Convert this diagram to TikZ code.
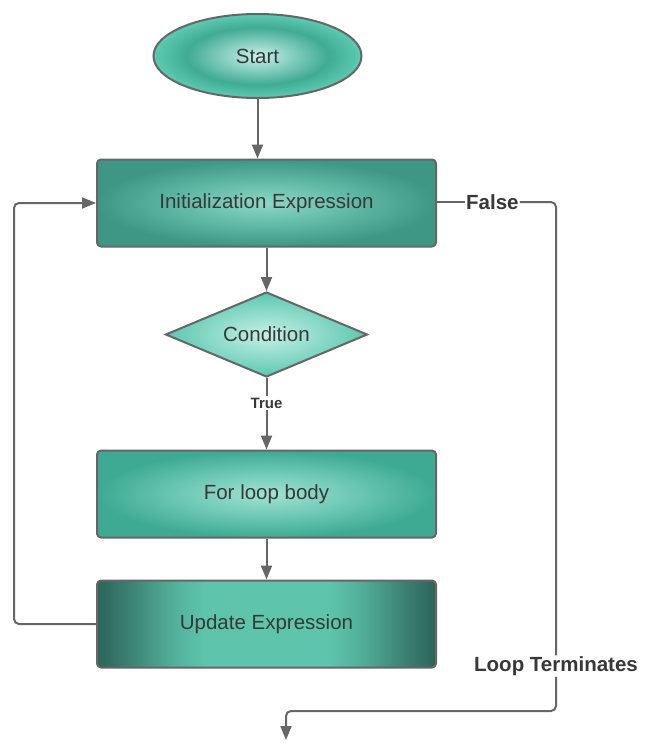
\documentclass[tikz,border=0pt]{standalone}
\usepackage{fontspec}
\setmainfont{Liberation Sans}
\usetikzlibrary{shapes.geometric,arrows.meta}
\definecolor{linec}{HTML}{666666}
\definecolor{txtc}{HTML}{383838}
\definecolor{stin}{HTML}{C8F1E9}
\definecolor{stmid}{HTML}{40AB93}
\definecolor{stout}{HTML}{5CCBB2}
\definecolor{initin}{HTML}{8ED7C6}
\definecolor{initmid}{HTML}{5FB9A5}
\definecolor{initout}{HTML}{3D9784}
\definecolor{condin}{HTML}{C6F0E6}
\definecolor{condout}{HTML}{5BC8AF}
\definecolor{bodyin}{HTML}{A2E2D4}
\definecolor{bodymid}{HTML}{6CC8B4}
\definecolor{bodyout}{HTML}{3EAA93}
\definecolor{upddk}{HTML}{2C6459}
\definecolor{updmid}{HTML}{5EC5AC}
\colorlet{updA}{upddk!75!updmid}
\colorlet{updB}{upddk!45!updmid}
\colorlet{updC}{upddk!18!updmid}
\pgfdeclareradialshading{startsh}{\pgfpoint{0bp}{0bp}}{color(0bp)=(stin); color(17bp)=(stmid); color(25bp)=(stout); color(50bp)=(stout)}
\pgfdeclareradialshading{initsh}{\pgfpoint{0bp}{0bp}}{color(0bp)=(initin); color(13bp)=(initmid); color(25bp)=(initout); color(50bp)=(initout)}
\pgfdeclareradialshading{bodysh}{\pgfpoint{0bp}{0bp}}{color(0bp)=(bodyin); color(13bp)=(bodymid); color(25bp)=(bodyout); color(50bp)=(bodyout)}
\pgfdeclarehorizontalshading{updsh}{100bp}{color(0bp)=(upddk); color(25bp)=(upddk); color(29bp)=(updA); color(33bp)=(updB); color(37bp)=(updC); color(41bp)=(updmid); color(59bp)=(updmid); color(63bp)=(updC); color(67bp)=(updB); color(71bp)=(updA); color(75bp)=(upddk); color(100bp)=(upddk)}
\begin{document}
\begin{tikzpicture}[x=1pt,y=-1pt,
  every node/.style={text=txtc, font=\fontsize{20.5}{24}\selectfont},
  boxst/.style={draw=linec, line width=2pt, rectangle, rounded corners=4pt, minimum width=339pt, minimum height=87pt, inner sep=0pt},
  lbl/.style={font=\fontsize{20.5}{24}\selectfont\bfseries, fill=white, inner sep=1pt},
  smalllbl/.style={font=\fontsize{15}{18}\selectfont\bfseries, fill=white, inner sep=2pt},
  conn/.style={draw=linec, line width=2pt},
  arr/.style={conn, -{Triangle[length=14pt,width=11pt]}}
]
\useasboundingbox (0,0) rectangle (652,755);
\fill[white] (0,0) rectangle (652,755);
\node[ellipse, draw=linec, line width=2pt, shading=startsh, minimum width=208pt, minimum height=84pt, inner sep=0pt] (start) at (257.5,56) {Start};
\node[boxst, shading=initsh] (init) at (266.5,203) {Initialization Expression};
\node[diamond, draw=linec, line width=2pt, inner color=condin, outer color=condout, minimum width=202pt, minimum height=85pt, inner sep=0pt, aspect=2.4] (cond) at (266.5,334.5) {Condition};
\node[smalllbl] (true) at (266.5,403) {True};
\node[boxst, shading=bodysh] (body) at (266.5,494) {For loop body};
\node[boxst, shading=updsh] (upd) at (266.5,624) {Update Expression};
\node[lbl, anchor=west] (false) at (465,202) {False};
\node[lbl] (term) at (556,666) {Loop Terminates};
\coordinate (lx) at (14,0);
\coordinate (rx) at (556,0);
\coordinate (endp) at (286,740);
\coordinate (by) at (0,711);
\draw[arr] (start.south) -- (start.south |- init.north);
\draw[arr] (init.south) -- (cond.north);
\draw[conn] (cond.south) -- (true.north);
\draw[arr] (true.south) -- (body.north);
\draw[arr] (body.south) -- (upd.north);
\draw[arr, rounded corners=5pt] (upd.west) -- (upd.west -| lx) |- (init.west);
\draw[conn] (init.east |- false.west) -- (false.west);
\draw[conn, rounded corners=5pt] (false.east) -| (term.north -| rx);
\draw[arr, rounded corners=5pt] (term.south -| rx) |- (endp |- by) -- (endp);
\end{tikzpicture}
\end{document}
